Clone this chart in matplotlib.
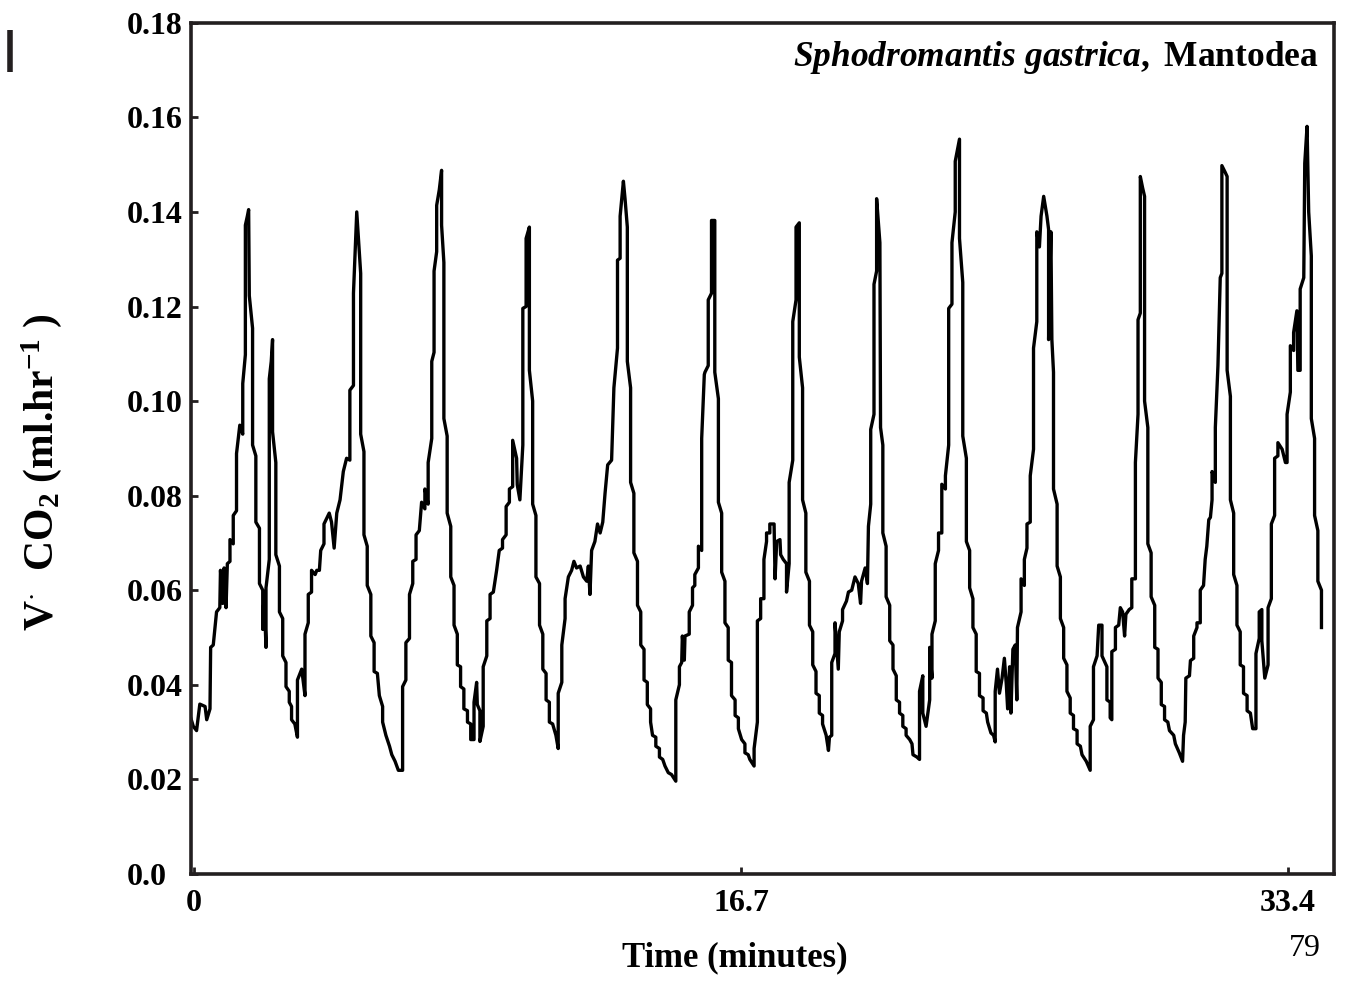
import matplotlib
matplotlib.use("Agg")
import matplotlib.pyplot as plt
from matplotlib.lines import Line2D

plt.rcParams['font.family'] = ['Liberation Serif', 'DejaVu Serif']
plt.rcParams['font.weight'] = 'bold'
plt.rcParams['mathtext.fontset'] = 'custom'
plt.rcParams['mathtext.rm'] = 'Liberation Serif:bold'
plt.rcParams['mathtext.it'] = 'Liberation Serif:italic:bold'
plt.rcParams['mathtext.bf'] = 'Liberation Serif:bold'

# time (minutes), cycle by cycle
time_min = [
    -0.12, -0.02, 0.08, 0.18, 0.34, 0.39, 0.49, 0.51, 0.59, 0.69, 0.79, 0.81, 0.88, 0.92, 0.98, 1.02,
    1.10, 1.10, 1.20, 1.20, 1.30, 1.30, 1.40, 1.49, 1.49, 1.57, 1.57, 1.63, 1.67, 1.69, 1.79, 1.79,
    1.89, 1.89, 2.00, 2.00, 2.10, 2.10, 2.14, 2.20, 2.20, 2.30, 2.30, 2.36, 2.40, 2.40, 2.50, 2.50,
    2.61, 2.61, 2.71, 2.71, 2.81, 2.81, 2.91, 2.91, 2.98, 2.98, 3.08, 3.16, 3.16, 3.29, 3.39, 3.39,
    3.49, 3.49, 3.59, 3.59, 3.70, 3.75, 3.83, 3.87, 3.97, 3.97, 4.13, 4.20, 4.28, 4.36, 4.46, 4.56,
    4.66, 4.76, 4.76, 4.87, 4.87, 4.97, 5.09, 5.09, 5.19, 5.19, 5.29, 5.29, 5.40, 5.40, 5.50, 5.50,
    5.60, 5.66, 5.76, 5.76, 5.86, 5.97, 6.04, 6.14, 6.24, 6.37, 6.37, 6.47, 6.47, 6.58, 6.58, 6.68,
    6.68, 6.78, 6.78, 6.88,
    # cycles 3-5
    6.95, 7.05, 7.05, 7.15, 7.15, 7.26, 7.26, 7.33, 7.33, 7.41, 7.41, 7.49, 7.56, 7.56, 7.63, 7.63,
    7.73, 7.73, 7.84, 7.84, 7.94, 7.94, 8.04, 8.04, 8.14, 8.14, 8.24, 8.24, 8.35, 8.35, 8.45, 8.45,
    8.55, 8.55, 8.63, 8.65, 8.73, 8.73, 8.83, 8.83, 8.94, 8.94, 9.04, 9.04, 9.14, 9.24, 9.32, 9.42,
    9.42, 9.53, 9.53, 9.63, 9.63, 9.73, 9.73, 9.85, 9.87, 9.95, 10.04, 10.04, 10.14, 10.14, 10.24, 10.24,
    10.34, 10.34, 10.44, 10.44, 10.55, 10.55, 10.65, 10.65, 10.75, 10.75, 10.85, 10.85, 10.95, 11.05, 11.12, 11.12,
    11.23, 11.23, 11.33, 11.33, 11.43, 11.53, 11.60, 11.68, 11.79, 11.89, 11.99, 12.04, 12.09, 12.14, 12.24, 12.32,
    12.40, 12.48, 12.55, 12.63, 12.75, 12.82, 12.93, 12.93, 13.01, 13.01, 13.11, 13.16, 13.23, 13.23, 13.33, 13.33,
    13.43, 13.43, 13.54, 13.54, 13.64, 13.64, 13.74, 13.74, 13.84, 13.84, 13.94, 13.94,
    # cycles 6-8
    14.00, 14.10, 14.10, 14.21, 14.21, 14.31, 14.38, 14.48, 14.58, 14.71, 14.71, 14.82, 14.82, 14.89, 14.91, 14.97,
    14.99, 15.12, 15.12, 15.22, 15.22, 15.29, 15.29, 15.40, 15.40, 15.50, 15.50, 15.58, 15.60, 15.70, 15.70, 15.80,
    15.80, 15.90, 15.90, 16.01, 16.01, 16.11, 16.11, 16.21, 16.21, 16.31, 16.31, 16.41, 16.41, 16.52, 16.52, 16.62,
    16.62, 16.72, 16.82, 16.82, 16.92, 16.97, 17.10, 17.10, 17.20, 17.20, 17.30, 17.30, 17.40, 17.40, 17.48, 17.48,
    17.58, 17.58, 17.71, 17.74, 17.79, 17.89, 17.91, 17.99, 18.09, 18.09, 18.17, 18.17, 18.28, 18.28, 18.38, 18.38,
    18.48, 18.48, 18.58, 18.58, 18.68, 18.68, 18.79, 18.79, 18.89, 18.89, 18.99, 18.99, 19.09, 19.09, 19.19, 19.19,
    19.30, 19.37, 19.40, 19.47, 19.47, 19.57, 19.57, 19.67, 19.70, 19.80, 19.80, 19.92, 19.98, 20.08, 20.18, 20.28,
    20.35, 20.38, 20.49, 20.56, 20.59, 20.66, 20.66, 20.76, 20.76, 20.84, 20.84, 20.94, 20.96,
    # cycles 9-10
    21.03, 21.03, 21.13, 21.13, 21.24, 21.24, 21.34, 21.34, 21.44, 21.44, 21.54, 21.54, 21.64, 21.64, 21.74, 21.74,
    21.85, 21.92, 21.95, 22.07, 22.15, 22.15, 22.25, 22.25, 22.35, 22.46, 22.46, 22.53, 22.53, 22.63, 22.63, 22.73,
    22.73, 22.83, 22.83, 22.94, 22.94, 23.04, 23.04, 23.14, 23.14, 23.24, 23.24, 23.37, 23.37, 23.47, 23.47, 23.58,
    23.58, 23.68, 23.68, 23.78, 23.78, 23.88, 23.88, 23.98, 23.98, 24.09, 24.09, 24.19, 24.23, 24.33, 24.41, 24.46,
    24.46, 24.53, 24.59, 24.67, 24.74, 24.80, 24.84, 24.90, 24.94, 25.00, 25.07, 25.12, 25.14, 25.25, 25.25, 25.35,
    25.35, 25.43, 25.43, 25.53, 25.53, 25.63, 25.63, 25.73, 25.73, 25.81, 25.86, 25.94, 26.04, 26.09, 26.09, 26.16,
    26.19, 26.24, 26.24, 26.35, 26.35, 26.45, 26.45, 26.55, 26.55, 26.65, 26.65, 26.75, 26.75, 26.85, 26.85, 26.96,
    26.96, 27.06, 27.11, 27.24, 27.36, 27.36, 27.46, 27.46, 27.57, 27.62, 27.72, 27.72, 27.87, 27.87, 27.97, 27.97,
    28.02,
    # cycles 11-13
    28.02, 28.13, 28.13, 28.23, 28.28, 28.35, 28.41, 28.45, 28.55, 28.63, 28.63, 28.74, 28.74, 28.82, 28.82, 28.89,
    28.89, 28.96, 29.02, 29.02, 29.12, 29.12, 29.22, 29.22, 29.33, 29.33, 29.43, 29.43, 29.53, 29.53, 29.63, 29.63,
    29.73, 29.78, 29.91, 29.96, 30.08, 30.18, 30.21, 30.26, 30.28, 30.39, 30.42, 30.52, 30.52, 30.62, 30.62, 30.72,
    30.72, 30.82, 30.87, 30.92, 30.98, 31.03, 31.08, 31.08, 31.18, 31.18, 31.26, 31.33, 31.38, 31.38, 31.48, 31.54,
    31.54, 31.64, 31.64, 31.74, 31.74, 31.84, 31.84, 31.94, 31.94, 32.04, 32.04, 32.15, 32.15, 32.25, 32.32, 32.42,
    32.42, 32.52, 32.52, 32.60, 32.60, 32.69, 32.79, 32.79, 32.89, 32.89, 32.99, 32.99, 33.09, 33.09, 33.22, 33.32,
    33.37, 33.37, 33.47, 33.47, 33.57, 33.57, 33.67, 33.70, 33.77, 33.77, 33.88, 33.91, 33.98, 34.03, 34.11, 34.11,
    34.21, 34.21, 34.31, 34.31, 34.42, 34.42,
]

# CO2 release rate (ml/hr), same order as time_min
vco2 = [
    0.0335, 0.0312, 0.0303, 0.0359, 0.0354, 0.0326, 0.0349, 0.0479, 0.0484, 0.0554, 0.0563, 0.0642, 0.0572, 0.0647, 0.0563, 0.0656,
    0.0661, 0.0707, 0.0698, 0.0758, 0.0768, 0.0889, 0.0949, 0.0930, 0.1037, 0.1098, 0.1372, 0.1391, 0.1405, 0.1223, 0.1154, 0.0907,
    0.0884, 0.0744, 0.0731, 0.0614, 0.0600, 0.0517, 0.0591, 0.0479, 0.0605, 0.0665, 0.1047, 0.1084, 0.1130, 0.0935, 0.0870, 0.0675,
    0.0651, 0.0554, 0.0540, 0.0461, 0.0447, 0.0396, 0.0386, 0.0363, 0.0354, 0.0326, 0.0317, 0.0289, 0.0410, 0.0433, 0.0377, 0.0507,
    0.0531, 0.0591, 0.0596, 0.0642, 0.0633, 0.0642, 0.0642, 0.0684, 0.0698, 0.0740, 0.0763, 0.0744, 0.0689, 0.0763, 0.0791, 0.0851,
    0.0879, 0.0875, 0.1023, 0.1033, 0.1228, 0.1400, 0.1270, 0.0930, 0.0893, 0.0717, 0.0693, 0.0610, 0.0591, 0.0503, 0.0489, 0.0428,
    0.0424, 0.0377, 0.0354, 0.0321, 0.0293, 0.0270, 0.0252, 0.0238, 0.0219, 0.0219, 0.0396, 0.0410, 0.0489, 0.0498, 0.0591, 0.0614,
    0.0661, 0.0665, 0.0717, 0.0726,
    # cycles 3-5
    0.0786, 0.0772, 0.0814, 0.0782, 0.0870, 0.0921, 0.1084, 0.1103, 0.1275, 0.1316, 0.1414, 0.1447, 0.1488, 0.1372, 0.1293, 0.0963,
    0.0926, 0.0763, 0.0735, 0.0628, 0.0610, 0.0526, 0.0507, 0.0442, 0.0438, 0.0396, 0.0391, 0.0349, 0.0345, 0.0321, 0.0317, 0.0284,
    0.0284, 0.0363, 0.0405, 0.0358, 0.0345, 0.0280, 0.0312, 0.0438, 0.0461, 0.0535, 0.0540, 0.0591, 0.0596, 0.0642, 0.0684, 0.0689,
    0.0707, 0.0717, 0.0777, 0.0786, 0.0814, 0.0819, 0.0917, 0.0879, 0.0823, 0.0791, 0.0907, 0.1196, 0.1200, 0.1344, 0.1368, 0.1065,
    0.1000, 0.0782, 0.0758, 0.0628, 0.0614, 0.0526, 0.0507, 0.0433, 0.0424, 0.0368, 0.0363, 0.0321, 0.0317, 0.0293, 0.0265, 0.0382,
    0.0405, 0.0484, 0.0540, 0.0582, 0.0628, 0.0642, 0.0661, 0.0647, 0.0651, 0.0628, 0.0619, 0.0651, 0.0591, 0.0684, 0.0703, 0.0740,
    0.0721, 0.0744, 0.0805, 0.0865, 0.0875, 0.1028, 0.1112, 0.1298, 0.1302, 0.1391, 0.1465, 0.1428, 0.1368, 0.1084, 0.1028, 0.0828,
    0.0805, 0.0679, 0.0661, 0.0568, 0.0554, 0.0484, 0.0475, 0.0410, 0.0405, 0.0358, 0.0349, 0.0321,
    # cycles 6-8
    0.0293, 0.0289, 0.0270, 0.0265, 0.0247, 0.0242, 0.0228, 0.0214, 0.0210, 0.0196, 0.0368, 0.0400, 0.0438, 0.0447, 0.0503, 0.0452,
    0.0503, 0.0507, 0.0554, 0.0568, 0.0605, 0.0610, 0.0633, 0.0647, 0.0693, 0.0684, 0.0921, 0.1056, 0.1061, 0.1075, 0.1214, 0.1228,
    0.1382, 0.1382, 0.1061, 0.1005, 0.0786, 0.0763, 0.0638, 0.0619, 0.0531, 0.0521, 0.0452, 0.0447, 0.0377, 0.0368, 0.0335, 0.0330,
    0.0307, 0.0284, 0.0275, 0.0256, 0.0252, 0.0242, 0.0228, 0.0265, 0.0321, 0.0535, 0.0540, 0.0582, 0.0582, 0.0665, 0.0703, 0.0721,
    0.0721, 0.0740, 0.0740, 0.0624, 0.0703, 0.0707, 0.0675, 0.0665, 0.0656, 0.0596, 0.0656, 0.0828, 0.0875, 0.1168, 0.1214, 0.1368,
    0.1377, 0.1093, 0.1028, 0.0791, 0.0763, 0.0638, 0.0619, 0.0526, 0.0512, 0.0442, 0.0428, 0.0382, 0.0377, 0.0340, 0.0335, 0.0317,
    0.0293, 0.0261, 0.0289, 0.0293, 0.0447, 0.0466, 0.0531, 0.0433, 0.0512, 0.0535, 0.0559, 0.0577, 0.0596, 0.0600, 0.0628, 0.0614,
    0.0572, 0.0619, 0.0647, 0.0614, 0.0735, 0.0782, 0.0940, 0.0972, 0.1247, 0.1275, 0.1428, 0.1335, 0.0944,
    # cycles 9-10
    0.0907, 0.0721, 0.0693, 0.0586, 0.0568, 0.0493, 0.0484, 0.0433, 0.0419, 0.0368, 0.0363, 0.0340, 0.0335, 0.0312, 0.0307, 0.0293,
    0.0284, 0.0275, 0.0252, 0.0247, 0.0242, 0.0386, 0.0419, 0.0340, 0.0312, 0.0368, 0.0479, 0.0414, 0.0507, 0.0535, 0.0656, 0.0684,
    0.0721, 0.0721, 0.0824, 0.0814, 0.0842, 0.0907, 0.1196, 0.1205, 0.1335, 0.1400, 0.1507, 0.1554, 0.1344, 0.1251, 0.0926, 0.0879,
    0.0703, 0.0684, 0.0605, 0.0582, 0.0521, 0.0507, 0.0428, 0.0424, 0.0377, 0.0372, 0.0345, 0.0340, 0.0321, 0.0298, 0.0293, 0.0279,
    0.0386, 0.0433, 0.0382, 0.0414, 0.0456, 0.0400, 0.0349, 0.0438, 0.0340, 0.0475, 0.0484, 0.0368, 0.0521, 0.0554, 0.0624, 0.0610,
    0.0665, 0.0689, 0.0740, 0.0744, 0.0842, 0.0898, 0.1112, 0.1168, 0.1358, 0.1326, 0.1391, 0.1433, 0.1391, 0.1363, 0.1130, 0.1358,
    0.1130, 0.1061, 0.0814, 0.0782, 0.0651, 0.0628, 0.0540, 0.0521, 0.0456, 0.0442, 0.0386, 0.0372, 0.0340, 0.0335, 0.0307, 0.0303,
    0.0275, 0.0270, 0.0252, 0.0238, 0.0219, 0.0312, 0.0326, 0.0438, 0.0461, 0.0526, 0.0526, 0.0461, 0.0438, 0.0368, 0.0363, 0.0330,
    0.0326,
    # cycles 11-13
    0.0470, 0.0475, 0.0521, 0.0526, 0.0563, 0.0554, 0.0503, 0.0549, 0.0559, 0.0563, 0.0624, 0.0624, 0.0870, 0.0972, 0.1172, 0.1186,
    0.1475, 0.1451, 0.1433, 0.1000, 0.0944, 0.0698, 0.0679, 0.0586, 0.0568, 0.0479, 0.0475, 0.0414, 0.0405, 0.0358, 0.0354, 0.0326,
    0.0321, 0.0303, 0.0293, 0.0275, 0.0256, 0.0238, 0.0293, 0.0321, 0.0414, 0.0419, 0.0451, 0.0456, 0.0503, 0.0521, 0.0531, 0.0531,
    0.0600, 0.0610, 0.0665, 0.0693, 0.0749, 0.0754, 0.0791, 0.0851, 0.0828, 0.0944, 0.1075, 0.1261, 0.1270, 0.1498, 0.1484, 0.1475,
    0.1065, 0.1010, 0.0791, 0.0763, 0.0633, 0.0610, 0.0526, 0.0512, 0.0442, 0.0438, 0.0382, 0.0377, 0.0345, 0.0340, 0.0307, 0.0307,
    0.0466, 0.0498, 0.0554, 0.0559, 0.0493, 0.0414, 0.0442, 0.0563, 0.0582, 0.0740, 0.0758, 0.0879, 0.0884, 0.0912, 0.0898, 0.0870,
    0.0870, 0.0972, 0.1019, 0.1117, 0.1107, 0.1145, 0.1191, 0.1065, 0.1065, 0.1237, 0.1261, 0.1503, 0.1581, 0.1400, 0.1307, 0.0963,
    0.0921, 0.0758, 0.0726, 0.0619, 0.0600, 0.0521,
]

assert len(time_min) == len(vco2), (len(time_min), len(vco2))

y_ticks = [0.0, 0.02, 0.04, 0.06, 0.08, 0.10, 0.12, 0.14, 0.16, 0.18]
y_tick_labels = ['0.0', '0.02', '0.04', '0.06', '0.08', '0.10', '0.12', '0.14', '0.16', '0.18']
x_ticks = [0, 16.7, 33.4]
x_tick_labels = ['0', '16.7', '33.4']

ink = '#231f20'

fig = plt.figure(figsize=(13.45, 9.93), dpi=100)
ax = fig.add_axes([0.142, 0.120, 0.850, 0.857])

ax.plot(time_min, vco2, color='black', lw=2.4)

ax.set_xlim(-0.09, 34.81)
ax.set_ylim(0, 0.18)
ax.set_yticks(y_ticks)
ax.set_yticklabels(y_tick_labels, ha='left')
ax.set_xticks(x_ticks)
ax.set_xticklabels(x_tick_labels)

for sp in ax.spines.values():
    sp.set_linewidth(2.6)
    sp.set_color(ink)

ax.tick_params(axis='both', direction='in', length=5, width=2, color=ink,
               labelsize=23, labelcolor='black')
ax.tick_params(axis='y', pad=46)
ax.tick_params(axis='x', pad=11)

fig.text(0.5465, 0.035, 'Time (minutes)', ha='center', va='center',
         fontsize=25, fontweight='bold')
fig.text(0.031, 0.525, r'V$^{\cdot}$  CO$_2$ (ml.hr$^{-1}$ )', ha='center', va='center',
         rotation=90, fontsize=30, fontweight='bold')
fig.text(0.980, 0.9416, r'$\mathit{Sphodromantis\ gastrica,}\ $Mantodea', ha='right',
         va='center', fontsize=25.5, fontweight='bold')
fig.text(0.970, 0.045, '79', ha='center', va='center', fontsize=23, fontweight='normal')

# stray vertical bar in the top-left corner of the scan
fig.add_artist(Line2D([10 / 1345, 10 / 1345], [1 - 30 / 993, 1 - 72 / 993],
                      color=ink, lw=4, solid_capstyle='butt'))

fig.savefig('out.png', dpi=100)
